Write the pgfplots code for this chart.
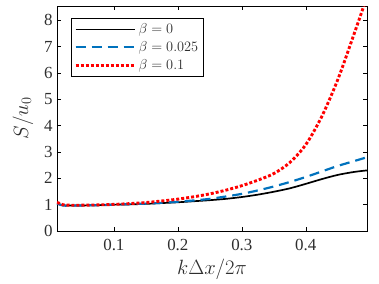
\documentclass[border=0pt]{standalone}
\usepackage{pgfplots}
\pgfplotsset{compat=1.18}
\usepackage{fontspec}
\setmainfont{Liberation Serif}
\definecolor{mblue}{rgb}{0,0.447,0.741}
\begin{document}
\begin{tikzpicture}
\path[use as bounding box] (-57bp,-53bp) rectangle (322bp,231bp);
\begin{axis}[
  scale only axis,
  width=310bp, height=225bp,
  xmin=0.0111, xmax=0.4956,
  ymin=0, ymax=8.54,
  xtick={0.1,0.2,0.3,0.4},
  ytick={0,1,2,3,4,5,6,7,8},
  xticklabels={0.1,0.2,0.3,0.4},
  tick align=inside,
  major tick length=4bp,
  tick style={black, line width=0.5pt},
  axis line style={line width=0.8pt},
  /pgf/number format/assume math mode=true,
  tick label style={font=\fontsize{17}{20}\selectfont, text=black!82},
  xticklabel style={yshift=-5bp},
  yticklabel style={xshift=-1bp},
  xlabel={$k\Delta x/2\pi$},
  ylabel={$S/u_0$},
  label style={font=\fontsize{19.5}{22}\selectfont, text=black!82},
  xlabel style={yshift=-1bp},
  ylabel style={yshift=4bp},
  legend style={at={(0.045,0.945)}, anchor=north west, draw=black, line width=0.6pt,
    font=\fontsize{15}{18}\selectfont, text=black!82, inner sep=3pt, row sep=2.5bp},
  legend cell align=left,
  legend image code/.code={\draw[#1] (0cm,0cm) -- (2.1cm,0cm);},
  clip=true,
]
\addplot[black, line width=1.7pt, smooth] coordinates {
(0.0111,1.04) (0.02,0.98) (0.03,0.97) (0.05,0.97) (0.075,0.98) (0.1,1.0) (0.125,1.01) (0.15,1.03) (0.175,1.06) (0.2,1.09) (0.225,1.13) (0.25,1.17) (0.275,1.22) (0.3,1.29) (0.325,1.38) (0.35,1.49) (0.375,1.62) (0.4,1.79) (0.425,1.97) (0.45,2.13) (0.475,2.24) (0.4956,2.30)};
\addlegendentry{$\beta=0$}
\addplot[mblue, line width=2.2pt, dash pattern=on 10bp off 6bp, smooth] coordinates {
(0.0111,1.04) (0.02,0.97) (0.03,0.96) (0.05,0.97) (0.075,0.98) (0.1,1.0) (0.125,1.02) (0.15,1.04) (0.175,1.07) (0.2,1.11) (0.225,1.16) (0.25,1.22) (0.275,1.31) (0.3,1.41) (0.325,1.54) (0.35,1.69) (0.375,1.86) (0.4,2.05) (0.425,2.26) (0.45,2.47) (0.475,2.65) (0.4956,2.80)};
\addlegendentry{$\beta=0.025$}
\addplot[red, line width=2.9pt, dash pattern=on 3bp off 2bp, smooth] coordinates {
(0.0111,1.09) (0.02,1.0) (0.03,0.98) (0.05,0.98) (0.075,0.99) (0.1,1.01) (0.125,1.04) (0.15,1.08) (0.175,1.14) (0.2,1.21) (0.225,1.30) (0.25,1.41) (0.275,1.55) (0.3,1.72) (0.325,1.93) (0.35,2.18) (0.375,2.60) (0.4,3.28) (0.425,4.35) (0.45,5.75) (0.475,7.45) (0.49,8.5) (0.4956,8.95)};
\addlegendentry{$\beta=0.1$}
\end{axis}
\end{tikzpicture}
\end{document}
